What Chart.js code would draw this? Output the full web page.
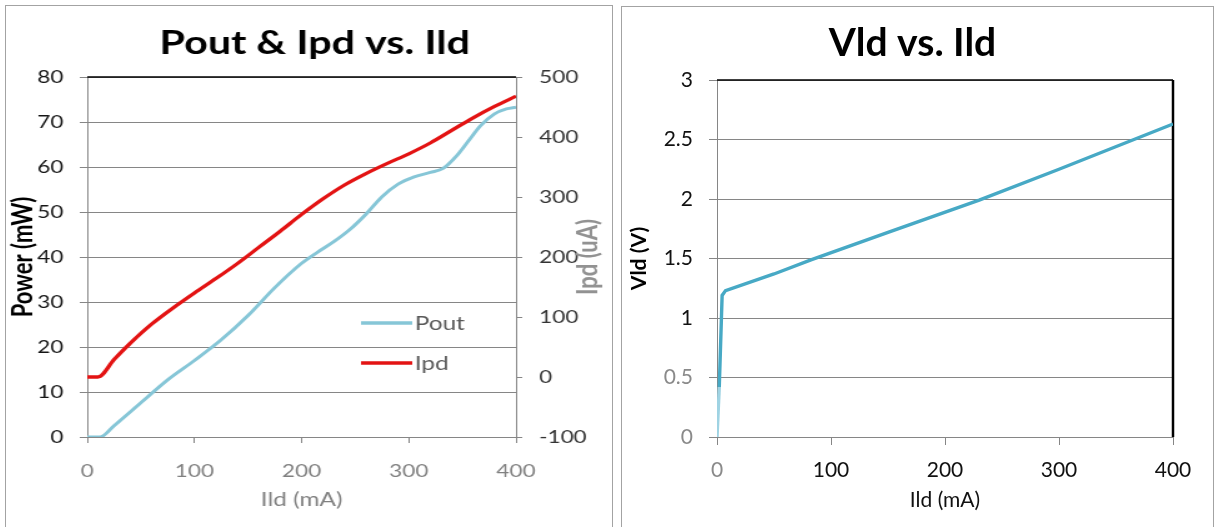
<!DOCTYPE html>
<html>
<head>
<meta charset="utf-8">
<title>Laser diode characteristics</title>
<script src="https://cdn.jsdelivr.net/npm/chart.js@4.4.1/dist/chart.umd.min.js"></script>
<style>
  html, body { margin: 0; padding: 0; background: #fff; width: 1217px; height: 527px; overflow: hidden; }
  .panel { position: absolute; box-sizing: border-box; border: 1px solid #a3a3a3; background: #fff; }
  #panelA { left: 5px; top: 5px; width: 608px; height: 540px; }
  #panelB { left: 621px; top: 6px; width: 593px; height: 540px; }
  .wrap { position: absolute; transform-origin: 0 0; }
  #wrapA { left: 6px; top: 6px; width: 484px; height: 521px; transform: scaleX(1.25); }
  #wrapB { left: 622px; top: 7px; width: 591px; height: 520px; }
  canvas { display: block; }
</style>
</head>
<body>
<div class="panel" id="panelA"></div>
<div class="panel" id="panelB"></div>
<div class="wrap" id="wrapA"><canvas id="chartA" width="484" height="521"></canvas></div>
<div class="wrap" id="wrapB"><canvas id="chartB" width="591" height="520"></canvas></div>
<script>
// Optical output power (mW) against laser drive current (mA)
const ildPout = [0, 12, 25, 50, 75, 100, 125, 150, 175, 200, 215, 230, 245, 260, 275, 290, 305, 320, 332, 345, 355, 367, 380, 391, 400];
const poutMw  = [0, 0, 2.5, 7.6, 12.7, 17.0, 21.6, 27.0, 33.2, 38.6, 41.1, 43.4, 46.1, 49.5, 53.4, 56.2, 57.8, 58.8, 59.7, 62.6, 65.6, 69.2, 71.8, 72.9, 73.3];

// Monitor photodiode current (uA) against drive current (mA)
const ildIpd = [0, 10, 25, 40, 60, 80, 100, 120, 140, 160, 180, 200, 220, 240, 260, 280, 300, 320, 340, 360, 380, 400];
const ipdUa  = [0, 0, 29, 56, 88, 115, 140, 164, 189, 216, 243, 271, 297, 320, 339, 356, 372, 390, 411, 432, 451, 468];

// Forward voltage (V) against drive current (mA)
const ildVld = [0, 2, 4.5, 7.5, 50, 83, 150, 230, 300, 400];
const vldV   = [0, 0.42, 1.19, 1.23, 1.37, 1.49, 1.72, 1.99, 2.25, 2.63];

// Axis tick values
const ildTicks   = [0, 100, 200, 300, 400];
const powerTicks = [0, 10, 20, 30, 40, 50, 60, 70, 80];
const ipdTicks   = [-100, 0, 100, 200, 300, 400, 500];
const vldTicks   = [0, 0.5, 1, 1.5, 2, 2.5, 3];

const FONT = 'Lato, "Open Sans", "Liberation Sans", sans-serif';
const GRID = '#868686';

const pts = (xs, ys) => xs.map((x, i) => ({ x: x, y: ys[i] }));
const fixedTicks = arr => scale => { scale.ticks = arr.map(v => ({ value: v })); };
const plainLabel = v => String(v);

// Black frame edges drawn along chosen sides of the plot area
const frameEdges = {
  id: 'frameEdges',
  beforeDatasetsDraw(chart, args, opts) {
    const { ctx, chartArea: a } = chart;
    ctx.save();
    ctx.strokeStyle = opts.color || '#000';
    if (opts.top) {
      ctx.lineWidth = opts.top;
      ctx.beginPath(); ctx.moveTo(a.left, a.top); ctx.lineTo(a.right, a.top); ctx.stroke();
    }
    if (opts.right) {
      ctx.lineWidth = opts.right;
      ctx.beginPath(); ctx.moveTo(a.right, a.top); ctx.lineTo(a.right, a.bottom); ctx.stroke();
    }
    ctx.restore();
  }
};

// Legend placed inside the plot area
const innerLegend = {
  id: 'innerLegend',
  afterDraw(chart, args, opts) {
    if (!opts.display) return;
    const ctx = chart.ctx;
    ctx.save();
    ctx.font = opts.font;
    ctx.textBaseline = 'middle';
    ctx.textAlign = 'left';
    chart.data.datasets.forEach((ds, i) => {
      const y = opts.y + i * opts.rowGap;
      ctx.strokeStyle = ds.borderColor;
      ctx.lineWidth = opts.lineWidth;
      ctx.beginPath(); ctx.moveTo(opts.x, y); ctx.lineTo(opts.x + opts.sample, y); ctx.stroke();
      ctx.fillStyle = opts.color;
      ctx.fillText(ds.label, opts.x + opts.sample + opts.gap, y + 1);
    });
    ctx.restore();
  }
};

// Secondary-axis title reading bottom-to-top
const sideTitle = {
  id: 'sideTitle',
  afterDraw(chart, args, opts) {
    if (!opts.text) return;
    const { ctx, chartArea: a } = chart;
    ctx.save();
    ctx.translate(opts.x, (a.top + a.bottom) / 2);
    ctx.rotate(-Math.PI / 2);
    ctx.font = opts.font;
    ctx.fillStyle = opts.color;
    ctx.textAlign = 'center';
    ctx.textBaseline = 'middle';
    ctx.fillText(opts.text, 0, 0);
    ctx.restore();
  }
};

function drawCharts() {
  // Pout & Ipd vs. Ild
  new Chart(document.getElementById('chartA'), {
    type: 'line',
    data: {
      datasets: [
        { label: 'Pout', data: pts(ildPout, poutMw), yAxisID: 'y', borderColor: '#86c6d7', borderWidth: 3,
          pointRadius: 0, cubicInterpolationMode: 'monotone' },
        { label: 'Ipd', data: pts(ildIpd, ipdUa), yAxisID: 'y1', borderColor: '#e31313', borderWidth: 3.3,
          pointRadius: 0, cubicInterpolationMode: 'monotone' }
      ]
    },
    options: {
      responsive: false, animation: false, devicePixelRatio: 1, events: [],
      layout: { padding: { left: 10, right: 0, top: 0, bottom: 0 } },
      plugins: {
        legend: { display: false },
        tooltip: { enabled: false },
        title: { display: true, text: 'Pout & Ipd vs. Ild', color: '#000',
                 font: { family: FONT, size: 33, weight: 'bold' }, padding: { top: 17.5, bottom: 13.9 } },
        frameEdges: { top: 1.5, color: '#000' },
        innerLegend: { display: true, x: 284, y: 317, rowGap: 40, sample: 41, gap: 2, lineWidth: 3.5,
                       font: '19.5px ' + FONT, color: '#595959' },
        sideTitle: { text: 'Ipd (uA)', x: 466, font: 'bold 22px ' + FONT, color: '#929292' }
      },
      scales: {
        x: {
          type: 'linear', min: 0, max: 400,
          afterBuildTicks: fixedTicks(ildTicks),
          afterFit: s => { s.height = 90; },
          grid: { drawOnChartArea: false, tickLength: 6, color: GRID },
          border: { color: GRID, width: 1 },
          ticks: { padding: 17, color: '#808080', font: { family: FONT, size: 18 }, callback: plainLabel },
          title: { display: true, text: 'Ild (mA)', color: '#808080',
                   font: { family: FONT, size: 19.5 }, padding: { top: 0, bottom: 15.3 } }
        },
        y: {
          position: 'left', min: 0, max: 80,
          afterBuildTicks: fixedTicks(powerTicks),
          afterFit: s => { s.width = 55; },
          grid: { color: GRID, tickLength: 6 },
          border: { color: GRID, width: 1 },
          ticks: { padding: 13, color: '#151515', font: { family: FONT, size: 18 }, callback: plainLabel },
          title: { display: true, text: 'Power (mW)', color: '#000',
                   font: { family: FONT, size: 22, weight: 'bold' }, padding: { top: -8.8, bottom: 0 } }
        },
        y1: {
          position: 'right', min: -100, max: 500,
          afterBuildTicks: fixedTicks(ipdTicks),
          afterFit: s => { s.width = 76; },
          grid: { drawOnChartArea: false, tickLength: 5, color: GRID },
          border: { color: GRID, width: 1 },
          ticks: { padding: 13.5, color: '#333', font: { family: FONT, size: 18 }, callback: plainLabel }
        }
      }
    },
    plugins: [frameEdges, innerLegend, sideTitle]
  });

  // Vld vs. Ild
  new Chart(document.getElementById('chartB'), {
    type: 'line',
    data: {
      datasets: [
        { label: 'Vld', data: pts(ildVld, vldV), yAxisID: 'y', borderColor: '#47a9c5', borderWidth: 3.4,
          pointRadius: 0, tension: 0,
          segment: { borderColor: c => (c.p0DataIndex === 0 ? '#9fd3e3' : undefined) } }
      ]
    },
    options: {
      responsive: false, animation: false, devicePixelRatio: 1, events: [],
      layout: { padding: { left: 0, right: 10, top: 0, bottom: 0 } },
      plugins: {
        legend: { display: false },
        tooltip: { enabled: false },
        title: { display: true, text: 'Vld vs. Ild', color: '#000',
                 font: { family: FONT, size: 39, weight: 'bold' }, padding: { top: 13, bottom: 13.2 } },
        frameEdges: { top: 1.5, right: 2.5, color: '#000' }
      },
      scales: {
        x: {
          type: 'linear', min: 0, max: 400,
          afterBuildTicks: fixedTicks(ildTicks),
          afterFit: s => { s.height = 90; },
          grid: { drawOnChartArea: false, tickLength: 8, color: GRID },
          border: { color: GRID, width: 1 },
          ticks: { padding: 13, font: { family: FONT, size: 21 }, callback: plainLabel,
                   color: c => (c.tick && c.tick.value === 0 ? '#8a8a8a' : '#111') },
          title: { display: true, text: 'Ild (mA)', color: '#111',
                   font: { family: FONT, size: 21 }, padding: { top: 0, bottom: 14.4 } }
        },
        y: {
          position: 'left', min: 0, max: 3,
          afterBuildTicks: fixedTicks(vldTicks),
          afterFit: s => { s.width = 95; },
          grid: { color: GRID, tickLength: 8 },
          border: { color: GRID, width: 1 },
          ticks: { padding: 16, font: { family: FONT, size: 21 }, callback: plainLabel,
                   color: c => (c.tick && c.tick.value < 1 ? '#8a8a8a' : '#111') },
          title: { display: true, text: 'Vld (V)', color: '#000',
                   font: { family: FONT, size: 21, weight: 'bold' }, padding: { top: 4.4, bottom: 0 } }
        },
        yPad: {
          position: 'right', min: 0, max: 1, display: true,
          afterFit: s => { s.width = 30; },
          grid: { display: false }, border: { display: false }, ticks: { display: false }
        }
      }
    },
    plugins: [frameEdges]
  });
}

const fontLoads = ['bold 33px Lato', '18px Lato'].map(f => (document.fonts ? document.fonts.load(f) : Promise.resolve()));
Promise.all(fontLoads).catch(() => {}).then(drawCharts);
</script>
</body>
</html>
